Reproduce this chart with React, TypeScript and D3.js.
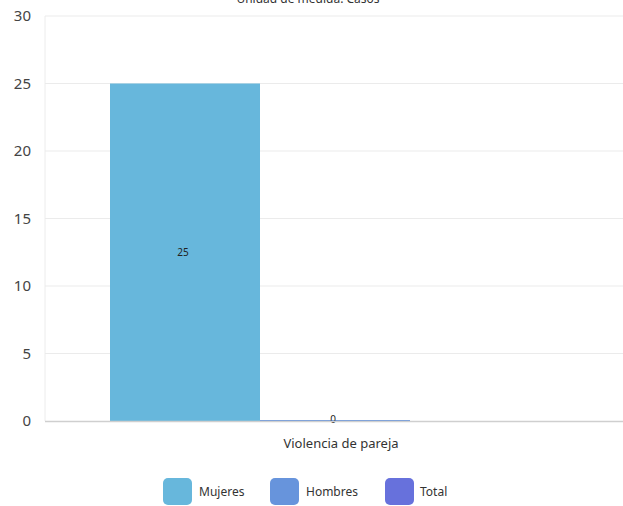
import React from "react";
import * as d3 from "d3";

const categories = ["Violencia de pareja"];
const seriesNames = ["Mujeres", "Hombres", "Total"];
const mujeres = [25];
const hombres = [0];
const total: (number | null)[] = [null];
const yTicks = [0, 5, 10, 15, 20, 25, 30];
const title = "Unidad de medida: Casos";

const colors = ["#67b7dc", "#6794dc", "#6771dc"];

export default function App() {
  const W = 623, H = 506;
  const left = 45, right = 637, top = 16, bottom = 421;
  const font = "'Noto Sans', 'Open Sans', sans-serif";
  const y = d3.scaleLinear().domain([0, 30]).range([bottom, top]);
  const x0 = d3.scaleBand<string>().domain(categories).range([left, right]).padding(0);
  const x1 = d3.scaleBand<string>().domain(seriesNames).range([65, 515]).padding(0);
  const series = [mujeres, hombres, total];

  const legendItems = [
    { name: "Mujeres", sx: 163, tx: 199 },
    { name: "Hombres", sx: 270, tx: 306 },
    { name: "Total", sx: 385, tx: 420 },
  ];

  return (
    <svg width={W} height={H} style={{ position: "absolute", left: 0, top: 0, background: "#fff" }} fontFamily={font}>
      <text x={308} y={3} textAnchor="middle" fontSize={12} fill="#333">{title}</text>
      {yTicks.map((t) => (
        <g key={t}>
          {t !== 0 && (
            <line x1={left} x2={W} y1={y(t)} y2={y(t)} stroke="#ebebeb" strokeWidth={1} />
          )}
          <text x={31} y={y(t)} dy="0.35em" textAnchor="end" fontSize={15} fill="#444">{t}</text>
        </g>
      ))}
      <line x1={left} x2={left} y1={top} y2={bottom} stroke="#ececec" strokeWidth={1} />
      {categories.map((c, ci) =>
        series.map((s, si) => {
          const v = s[ci];
          if (v === null || v === undefined) return null;
          const bx = (x0(c) as number) + (x1(seriesNames[si]) as number);
          const bw = x1.bandwidth();
          const by = y(v);
          const bh = Math.max(y(0) - by, 1);
          return (
            <g key={c + si}>
              <rect x={bx} y={v === 0 ? y(0) - 1 : by} width={bw} height={bh} fill={colors[si]} />
              <text x={bx + bw / 2 - 2} y={v === 0 ? y(0) - 2 : by + bh / 2} dy="0.35em" textAnchor="middle" fontSize={10} fill="#222">{v}</text>
            </g>
          );
        })
      )}
      <line x1={left} x2={W} y1={bottom + 0.5} y2={bottom + 0.5} stroke="#cfcfcf" strokeWidth={1.5} />
      {categories.map((c) => (
        <text key={c} x={(x0(c) as number) + x0.bandwidth() / 2} y={443} dy="0.35em" textAnchor="middle" fontSize={13} fill="#333">{c}</text>
      ))}
      {legendItems.map((it, i) => (
        <g key={it.name}>
          <rect x={it.sx} y={478} width={29} height={27} rx={5} fill={colors[i]} />
          <text x={it.tx} y={492} dy="0.35em" fontSize={12} fill="#333">{seriesNames[i]}</text>
        </g>
      ))}
    </svg>
  );
}
